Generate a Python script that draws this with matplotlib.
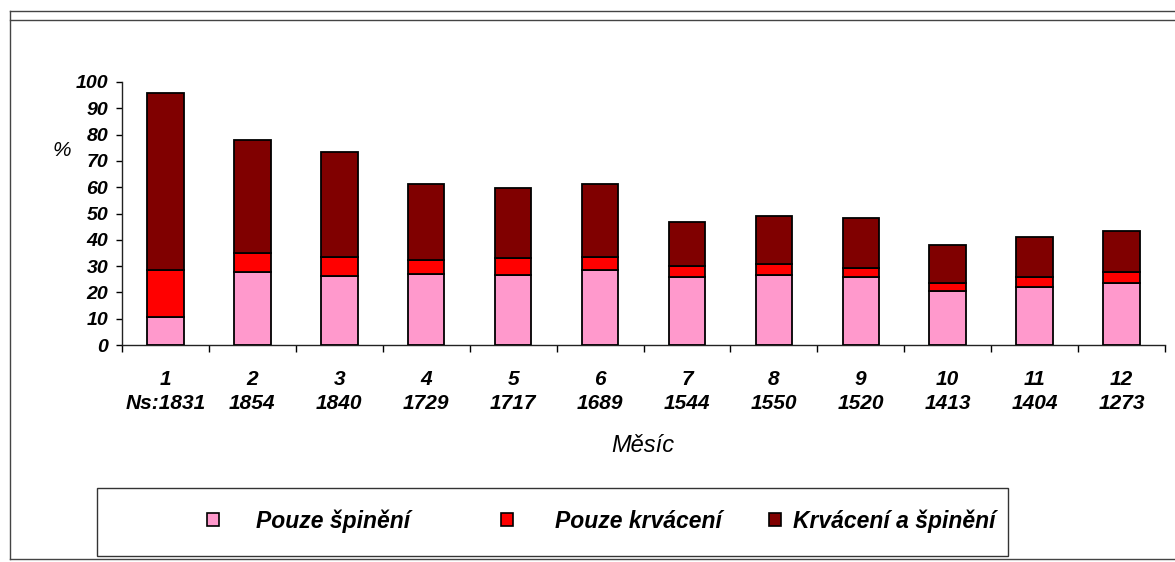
import numpy as np
import matplotlib
matplotlib.use("Agg")
import matplotlib.pyplot as plt
from matplotlib.patches import Patch, Rectangle
from matplotlib.lines import Line2D

plt.rcParams['font.family'] = ['Liberation Sans', 'DejaVu Sans']

# data (%)
months = ['1', '2', '3', '4', '5', '6', '7', '8', '9', '10', '11', '12']
n_counts = ['Ns:1831', '1854', '1840', '1729', '1717', '1689', '1544', '1550', '1520', '1413', '1404', '1273']
pouze_spineni = [10.5, 27.9, 26.2, 27.1, 26.5, 28.5, 25.9, 26.5, 25.9, 20.5, 22.2, 23.6]
pouze_krvaceni = [18.0, 7.2, 7.4, 5.1, 6.4, 5.0, 4.1, 4.2, 3.5, 3.0, 3.5, 4.3]
krvaceni_a_spineni = [67.3, 42.7, 39.9, 29.0, 26.9, 27.7, 16.8, 18.2, 18.7, 14.6, 15.4, 15.3]
series_names = ['Pouze špinění', 'Pouze krvácení', 'Krvácení a špinění']
colors = ['#FF99CC', '#FF0000', '#800000']

W, H = 1175, 562
fig = plt.figure(figsize=(W / 100, H / 100), dpi=100)
ax = fig.add_axes([122 / W, 1 - 345 / H, (1165 - 122) / W, (345 - 82) / H])

x = np.arange(len(months))
bottom = np.zeros(len(months))
for vals, c in zip([pouze_spineni, pouze_krvaceni, krvaceni_a_spineni], colors):
    ax.bar(x, vals, width=0.42, bottom=bottom, color=c, edgecolor='black', linewidth=1.3, zorder=3)
    bottom += np.array(vals)

ax.set_xlim(-0.5, len(months) - 0.5)
ax.set_ylim(0, 100)
ax.set_yticks(np.arange(0, 101, 10))
ax.tick_params(axis='y', direction='out', length=4, width=1, pad=6,
               labelsize=14)
for lab in ax.get_yticklabels():
    lab.set_fontweight('bold')
    lab.set_fontstyle('italic')

ax.set_xticks(x)
ax.set_xticklabels([m + '\n' + n for m, n in zip(months, n_counts)],
                   fontsize=15, fontweight='bold', fontstyle='italic', linespacing=1.35)
ax.tick_params(axis='x', length=0, pad=18)
ax.set_xticks(np.arange(-0.5, len(months)), minor=True)
ax.tick_params(axis='x', which='minor', direction='out', length=5, width=1)

for s in ['top', 'right']:
    ax.spines[s].set_visible(False)
for s in ['left', 'bottom']:
    ax.spines[s].set_linewidth(1)
    ax.spines[s].set_color('#222222')

fig.text(62 / W, 1 - 151 / H, '%', fontsize=15, fontstyle='italic', ha='center', va='center')
fig.text(643 / W, 1 - 445 / H, 'Měsíc', fontsize=17, fontstyle='italic', ha='center', va='center')

# legend box
fig.patches.append(Rectangle((97 / W, 1 - 556 / H), (1008 - 97) / W, (556 - 488) / H,
                             transform=fig.transFigure, facecolor='none',
                             edgecolor='#333333', linewidth=1))
legend_x = [207, 501, 769]
pads = [1.6, 1.83, 0.52]
for name, c, lx, p in zip(series_names, colors, legend_x, pads):
    lg = fig.legend([Patch(facecolor=c, edgecolor='black', linewidth=1.2)], [name],
                    loc='center left', bbox_to_anchor=(lx / W, 1 - 521 / H),
                    frameon=False, borderpad=0, borderaxespad=0,
                    handlelength=0.52, handleheight=0.52, handletextpad=p,
                    prop={'size': 16.5, 'weight': 'bold', 'style': 'italic'})

# outer frame lines
for (x0, y0, x1, y1) in [(10, 11, W, 11), (10, 20, W, 20), (10, 11, 10, 559), (10, 559, W, 559)]:
    fig.add_artist(Line2D([x0 / W, x1 / W], [1 - y0 / H, 1 - y1 / H],
                          transform=fig.transFigure, color='#444444', linewidth=1))

fig.savefig('out.png', dpi=100)
